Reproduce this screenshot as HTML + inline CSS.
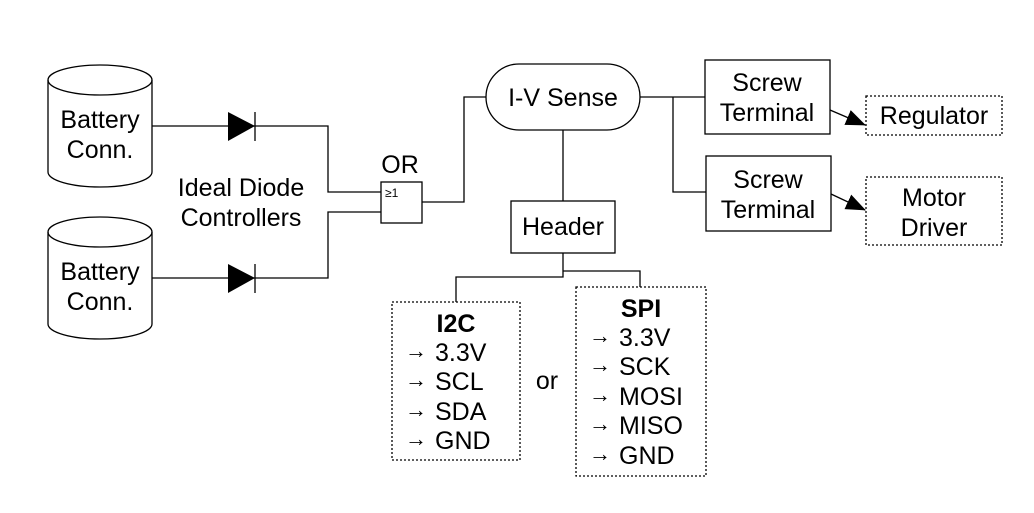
<!DOCTYPE html>
<html><head><style>
html,body{margin:0;padding:0;background:#fff;}
svg{display:block;font-family:"Liberation Sans",sans-serif;}
</style></head><body>
<svg width="1034" height="513" viewBox="0 0 1034 513" xmlns="http://www.w3.org/2000/svg">
<defs><marker id="ah" markerWidth="20" markerHeight="16" refX="19" refY="8" orient="auto" markerUnits="userSpaceOnUse"><path d="M0,0 L20,8 L0,16 Z" fill="#000"/></marker></defs>
<g fill="none" stroke="#000" stroke-width="1.3">
<path d="M48,80 A52,15 0 0 1 152,80 L152,172 A52,15 0 0 1 48,172 Z" fill="#fff"/>
<path d="M48,80 A52,15 0 0 0 152,80"/>
<path d="M48,232 A52,15 0 0 1 152,232 L152,324 A52,15 0 0 1 48,324 Z" fill="#fff"/>
<path d="M48,232 A52,15 0 0 0 152,232"/>
<path d="M152,126 H328 V192 H381"/>
<path d="M152,278 H328 V212 H381"/>
<path d="M255,112 V141 M255,264 V293"/>
<rect x="381" y="182" width="41" height="41" fill="#fff"/>
<path d="M422,202 H464 V97 H486"/>
<rect x="486" y="64" width="154" height="66" rx="33" fill="#fff"/>
<path d="M640,97 H705 M673,97 V192 H706"/>
<rect x="705" y="60" width="125" height="74"/>
<rect x="706" y="156" width="125" height="75"/>
<path d="M830,110 L865,125" marker-end="url(#ah)"/>
<path d="M831,194 L865,210" marker-end="url(#ah)"/>
<rect x="866" y="96" width="136" height="39" stroke-dasharray="2,2"/>
<rect x="866" y="177" width="136" height="68" stroke-dasharray="2,2"/>
<path d="M563,130 V201"/>
<rect x="511" y="201" width="104" height="52"/>
<path d="M563,253 V277 H456 V302 M563,271 H640 V287"/>
<rect x="392" y="302" width="128" height="158" stroke-dasharray="2,2"/>
<rect x="576" y="287" width="130" height="189" stroke-dasharray="2,2"/>
</g>
<path d="M228,112 L255,126 L228,141 Z M228,264 L255,278 L228,293 Z" fill="#000"/>
<g font-size="25" fill="#000" text-anchor="middle">
<text x="100" y="128">Battery</text><text x="100" y="158">Conn.</text>
<text x="100" y="280">Battery</text><text x="100" y="310">Conn.</text>
<text x="241" y="196">Ideal Diode</text><text x="241" y="226">Controllers</text>
<text x="400" y="173">OR</text>
<text x="563" y="106">I-V Sense</text>
<text x="767" y="91">Screw</text><text x="767" y="121">Terminal</text>
<text x="768" y="188">Screw</text><text x="768" y="218">Terminal</text>
<text x="934" y="124">Regulator</text>
<text x="934" y="206">Motor</text><text x="934" y="236">Driver</text>
<text x="563" y="235">Header</text>
<text x="547" y="389">or</text>
<text x="456" y="332" font-weight="bold">I2C</text>
<text x="641" y="317" font-weight="bold">SPI</text>
</g>
<text x="385" y="197" font-size="12">≥1</text>
<g font-size="25" fill="#000">
<g font-size="22"><text x="405" y="358">→</text><text x="405" y="387">→</text><text x="405" y="417">→</text><text x="405" y="446">→</text>
<text x="589" y="343">→</text><text x="589" y="372">→</text><text x="589" y="402">→</text><text x="589" y="431">→</text><text x="589" y="461">→</text></g>
<text x="435" y="361">3.3V</text>
<text x="435" y="390">SCL</text>
<text x="435" y="420">SDA</text>
<text x="435" y="449">GND</text>
<text x="619" y="346">3.3V</text>
<text x="619" y="375">SCK</text>
<text x="619" y="405">MOSI</text>
<text x="619" y="434">MISO</text>
<text x="619" y="464">GND</text>
</g>
</svg>
</body></html>
